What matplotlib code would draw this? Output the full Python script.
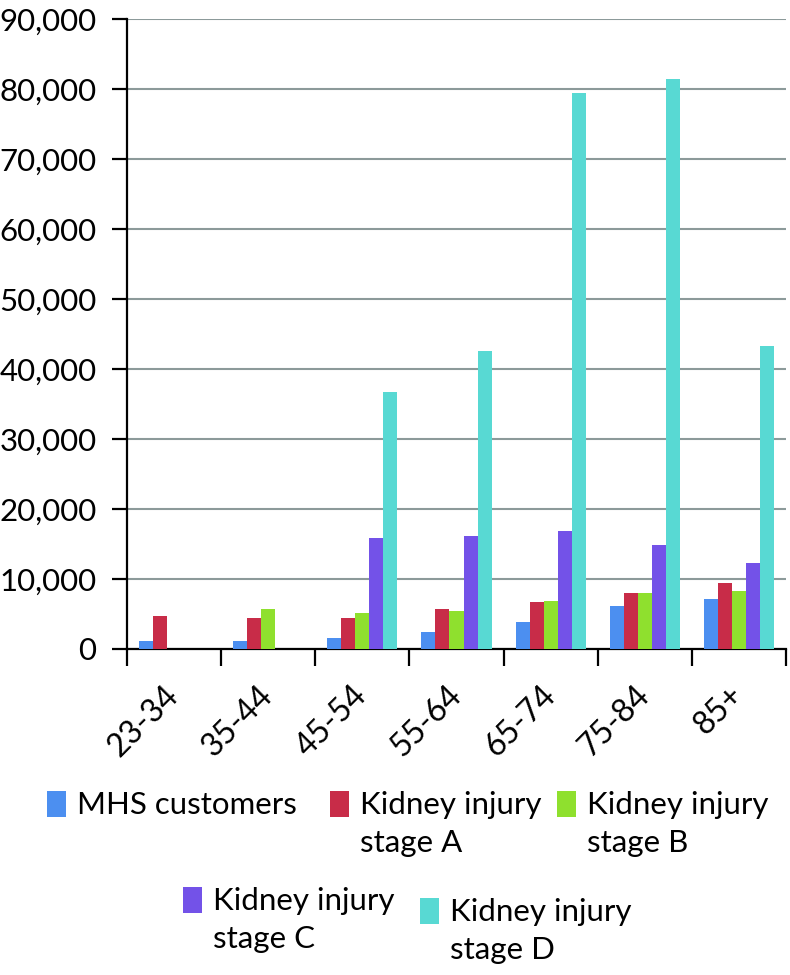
import numpy as np
import matplotlib
matplotlib.use("Agg")
import matplotlib.pyplot as plt
from matplotlib.patches import Patch
from matplotlib.ticker import FuncFormatter, MultipleLocator

categories = ["23-34", "35-44", "45-54", "55-64", "65-74", "75-84", "85+"]
series_names = ["MHS customers", "Kidney injury\nstage A", "Kidney injury\nstage B",
                "Kidney injury\nstage C", "Kidney injury\nstage D"]
mhs_customers = [1100, 1200, 1600, 2400, 3900, 6200, 7200]
stage_a = [4700, 4400, 4500, 5650, 6750, 7950, 9500]
stage_b = [0, 5700, 5100, 5400, 6800, 8000, 8300]
stage_c = [0, 0, 15800, 16200, 16900, 14800, 12300]
stage_d = [0, 0, 36700, 42600, 79400, 81500, 43300]
colors = ["#4C8FF0", "#C82C48", "#8FE02E", "#7352E8", "#58D9D3"]

plt.rcParams['font.family'] = ['Lato', 'DejaVu Sans']

W, H = 790, 975
fig = plt.figure(figsize=(W / 100, H / 100), dpi=100)
ax = fig.add_axes([127 / W, 1 - 649 / H, (786 - 127) / W, 630 / H])

series = [mhs_customers, stage_a, stage_b, stage_c, stage_d]
x = np.arange(len(categories))
bw = 0.149
for i, (vals, c) in enumerate(zip(series, colors)):
    ax.bar(x + (i - 2) * bw, vals, width=bw, color=c, zorder=3)

ax.set_xlim(-0.5, len(categories) - 0.5)
ax.set_ylim(0, 90000)
ax.yaxis.set_major_locator(MultipleLocator(10000))
ax.yaxis.set_major_formatter(FuncFormatter(lambda v, p: f"{int(v):,}"))
ax.grid(axis='y', color='#8C9A9A', linewidth=1.5, zorder=0)
ax.set_axisbelow(True)

for s in ['top', 'right']:
    ax.spines[s].set_visible(False)
for s in ['left', 'bottom']:
    ax.spines[s].set_linewidth(1.6)
    ax.spines[s].set_color('black')

ax.tick_params(axis='y', length=11, width=1.6, pad=11, labelsize=22.5, direction='out')
ax.set_xticks(x)
ax.set_xticklabels(categories, rotation=45, ha='right', va='center',
                   rotation_mode='anchor', fontsize=23)
ax.tick_params(axis='x', which='major', length=0, pad=30)
ax.set_xticks(np.arange(-0.5, len(categories)), minor=True)
ax.tick_params(axis='x', which='minor', length=12, width=1.6, direction='out')

# legend items
pos = [(47, 791), (330, 791), (557, 791), (183, 887), (420, 898)]
for name, c, (px, py) in zip(series_names, colors, pos):
    leg = fig.legend(handles=[Patch(facecolor=c, edgecolor='none')], labels=[name],
                     loc='upper left', bbox_to_anchor=(px / W, 1 - py / H),
                     frameon=False, fontsize=22.5, borderpad=0, borderaxespad=0,
                     handlelength=0.6, handleheight=0.9, handletextpad=0.35)
    for t in leg.get_texts():
        t.set_linespacing(1.45)
    for col in leg._legend_handle_box.get_children():
        for item in col.get_children():
            item.align = "top"

fig.savefig("out.png", dpi=100)
